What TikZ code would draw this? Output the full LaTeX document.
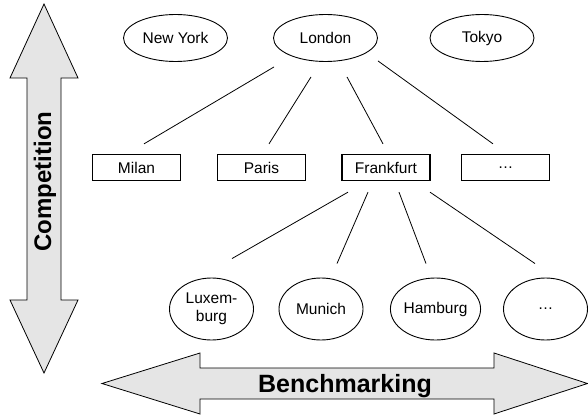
\documentclass[tikz,border=0pt]{standalone}
\usepackage{fontspec}
\setsansfont{Liberation Sans}
\usepackage{tikz}
\usetikzlibrary{shapes,positioning,calc}
\tikzset{
	basic/.style  = {draw, font=\sffamily\fontsize{15.5}{18}\selectfont, inner sep=0pt},
	city/.style   = {basic, ellipse, line width=0.9pt, minimum width=104pt, minimum height=47pt},
	branch/.style = {basic, rectangle, line width=1.3pt, minimum width=88pt, minimum height=26pt},
	town/.style   = {basic, ellipse, line width=0.9pt, minimum width=84pt, minimum height=62pt,
		align=center},
	fat arrow/.style  = {draw, fill=gray!20, line width=0.8pt, line join=miter},
	axis label/.style = {font=\sffamily\bfseries\fontsize{24}{28}\selectfont, inner sep=0pt}
}

\begin{document}
\begin{tikzpicture}[
x=1pt, y=-1pt,
link/.style={draw, line width=0.8pt}]
\useasboundingbox (0,0) rectangle (588,417);

% the two big arrows
\draw[fat arrow] (44,4) -- (78,78) -- (61,78) -- (61,300) -- (78,300) -- (44,373)
	-- (10,300) -- (27,300) -- (27,78) -- (10,78) -- cycle;
\node[axis label, rotate=90] (comp) at (45,181.5) {Competition};
\draw[fat arrow] (102,383.5) -- (200,353) -- (200,368) -- (494,368) -- (494,353) -- (587.5,383.5)
	-- (494,414) -- (494,399) -- (200,399) -- (200,414) -- cycle;
\node[axis label, font=\sffamily\bfseries\fontsize{25}{28}\selectfont] (bench) at (345,386) {Benchmarking};

% first row: the global centres
\node[city] (ny)  at (175.5,38) {New York};
\node[city] (lon) at (325.5,38) {London};
\node[city] (tok) at (482,38)   {Tokyo};

% second row, linked to London
\node[branch] (milan) at (136.5,167.5) {Milan};
\node[branch] (paris) at (261.5,167.5) {Paris};
\node[branch] (frank) at (386,167.5)   {Frankfurt};
\node[branch] (etc)   at (505.5,167.5) {…};

% third row, linked to Frankfurt
\node[town] (lux) at (211.5,309) {Luxem-\\burg};
\node[town] (mun) at (321,309)   {Munich};
\node[town] (ham) at (435.5,309) {Hamburg};
\node[town] (more) at (545.5,309) {…};

\draw[link] ($(lon.south)+(-51.5,5)$) -- ($(milan.north)+(7.5,-10)$);
\draw[link] ($(lon.south)+(-14.5,15)$) -- ($(paris.north)+(7.5,-10)$);
\draw[link] ($(lon.south)+(21.5,15)$) -- ($(frank.north)+(-3,-10)$);
\draw[link] ($(lon.south)+(52.5,-1)$) -- ($(etc.north)+(-12.5,-10)$);

\draw[link] ($(frank.south)+(-38,11)$) -- ($(lux.north)+(20.5,-19)$);
\draw[link] ($(frank.south)+(-18,11)$) -- ($(mun.north)+(16,-14)$);
\draw[link] ($(frank.south)+(13,11)$) -- ($(ham.north)+(-9.5,-14)$);
\draw[link] ($(frank.south)+(44,11)$) -- ($(more.north)+(-10.5,-14)$);

\end{tikzpicture}
\end{document}
